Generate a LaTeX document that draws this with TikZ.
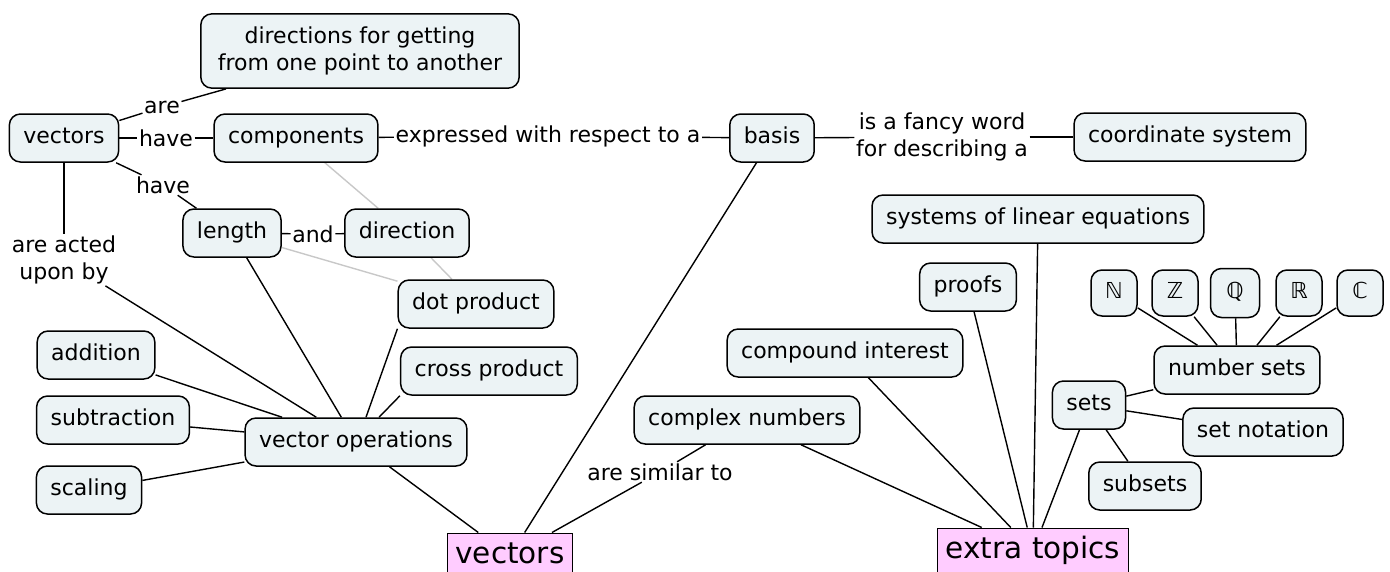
\documentclass[tikz,border=0pt]{standalone}
\usepackage{fontspec}
\setmainfont{DejaVu Sans}
\usetikzlibrary{calc}
\definecolor{conceptfill}{RGB}{236,243,245}
\definecolor{topicfill}{RGB}{255,204,255}
\definecolor{crossgray}{RGB}{200,200,200}
\pgfdeclarelayer{background}
\pgfsetlayers{background,main}
\begin{document}
\begin{tikzpicture}[x=1pt,y=-1pt,
  every node/.style={font=\fontsize{22}{27}\selectfont},
  conceptbase/.style={draw=black,line width=1.5pt,fill=conceptfill,rounded corners=11pt,
    inner xsep=14pt,inner ysep=0pt,minimum height=48pt},
  concept/.style={conceptbase,text height=16pt,text depth=5pt},
  numset/.style={concept,inner xsep=0pt,minimum width=46pt,minimum height=46pt},
  topic/.style={draw=black,line width=1pt,fill=topicfill,inner xsep=8pt,inner ysep=0pt,
    minimum height=46pt,text height=22pt,text depth=7pt,font=\fontsize{29.5}{34}\selectfont},
  linkword/.style={inner sep=1.5pt,align=center},
  link/.style={line width=1.4pt,draw=black},
  crosslink/.style={line width=1.4pt,draw=crossgray}]
\useasboundingbox (0,0) rectangle (1390,571);

% concepts
\node[conceptbase,align=center,inner xsep=17pt,inner ysep=13pt] (dirs) at (360,51) {directions for getting\\from one point to another};
\node[concept] (vec) at (64,138) {vectors};
\node[concept] (comp) at (296,138) {components};
\node[concept] (basis) at (772,138) {basis};
\node[concept] (coord) at (1190,137) {coordinate system};
\node[concept] (len) at (232,233) {length};
\node[concept] (dir) at (407,233) {direction};
\node[concept] (sle) at (1038,219) {systems of linear equations};
\node[concept] (proofs) at (968,287) {proofs};
\node[concept] (dot) at (476,304) {dot product};
\node[numset] (N) at (1114,293) {ℕ};
\node[numset] (Z) at (1175,293) {ℤ};
\node[numset,minimum width=49pt,minimum height=49pt] (Q) at (1235,293) {ℚ};
\node[numset] (R) at (1299,293) {ℝ};
\node[numset] (C) at (1360,293) {ℂ};
\node[concept] (add) at (96,355) {addition};
\node[concept] (ci) at (845,353) {compound interest};
\node[concept] (cross) at (489,371) {cross product};
\node[concept] (nsets) at (1237,370) {number sets};
\node[concept] (sets) at (1089,405) {sets};
\node[concept] (sub) at (113,420) {subtraction};
\node[concept] (cn) at (747,420) {complex numbers};
\node[concept] (vo) at (356,442) {vector operations};
\node[concept] (setn) at (1263,432) {set notation};
\node[concept] (scal) at (89,490) {scaling};
\node[concept] (subs) at (1145,486) {subsets};
\node[topic] (mvec) at (510,556) {vectors};
\node[topic] (extra) at (1033,551) {extra topics};

% linking phrases
\node[linkword] (l1) at (162,107) {are};
\node[linkword] (l2) at (166,138) {have};
\node[linkword] (l3) at (163,185) {have};
\node[linkword] (l4) at (64,260) {are acted\\upon by};
\node[linkword] (l5) at (548,136) {expressed with respect to a};
\node[linkword] (l6) at (942,137) {is a fancy word\\for describing a};
\node[linkword] (l7) at (313,234) {and};
\node[linkword] (l8) at (660,472) {are similar to};

\begin{pgfonlayer}{background}
  % propositions through linking phrases
  \draw[link] (vec) -- (l1);  \draw[link] (l1) -- (dirs);
  \draw[link] (vec) -- (l2);  \draw[link] (l2) -- (comp);
  \draw[link] (vec) -- (l3);  \draw[link] (l3) -- (len);
  \draw[link] (vec) -- (l4);  \draw[link] (l4) -- (vo);
  \draw[link] (comp) -- (l5); \draw[link] (l5) -- (basis);
  \draw[link] (basis) -- (l6); \draw[link] (l6) -- (coord);
  \draw[link] (len) -- (l7);  \draw[link] (l7) -- (dir);
  \draw[link] (mvec) -- (l8); \draw[link] (l8) -- (cn);
  % vector operations branch
  \draw[link] (len) -- (vo);
  \draw[link] (dot.south west) -- ($(vo.north)+(10,0)$);
  \draw[link] (cross.south west) -- ($(vo.north)+(23,0)$);
  \draw[link] (add) -- (vo);
  \draw[link] (sub) -- (vo);
  \draw[link] (scal) -- (vo);
  \draw[link] (vo) -- (mvec);
  \draw[link] (basis) -- (mvec);
  % extra topics branch
  \draw[link] (cn) -- (extra);
  \draw[link] (ci) -- (extra);
  \draw[link] (proofs) -- (extra);
  \draw[link] (sle) -- (extra);
  \draw[link] (sets) -- (extra);
  \draw[link] (sets) -- (nsets);
  \draw[link] (sets) -- (setn);
  \draw[link] (sets) -- (subs);
  \foreach \s in {N,Z,Q,R,C} \draw[link] (\s) -- (nsets);
  % cross-links
  \draw[crosslink] (comp) -- (dir);
  \draw[crosslink] (dir) -- (dot);
  \draw[crosslink] (len) -- (dot);
\end{pgfonlayer}
\end{tikzpicture}
\end{document}
